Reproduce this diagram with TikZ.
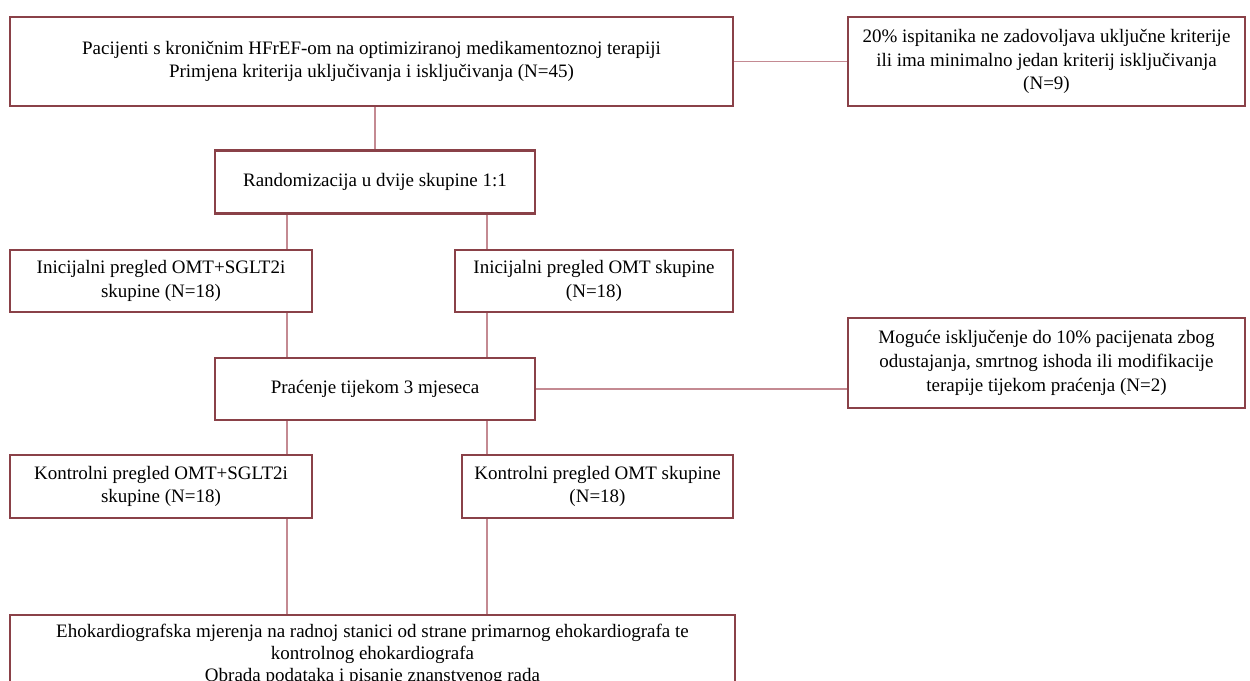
\documentclass[tikz,border=0pt]{standalone}
\usepackage{fontspec}
\setmainfont{Liberation Serif}
\definecolor{boxred}{HTML}{8A4148}
\definecolor{linered}{HTML}{C48A92}
\begin{document}
\begin{tikzpicture}[x=0.6pt, y=-0.6pt,
  box/.style={draw=boxred, line width=1.4pt, align=center, inner sep=0pt,
    font=\fontsize{11.4}{14.2}\selectfont},
  conn/.style={draw=linered, line width=0.7pt}]
  \useasboundingbox (0,0) rectangle (1250,681);

  \node[box, minimum width=433.8pt, minimum height=53.4pt] (pacijenti) at (371.5, 61.5)
    {Pacijenti s kroničnim HFrEF-om na optimiziranoj medikamentoznoj terapiji\\
     Primjena kriterija uključivanja i isključivanja (N=45)};
  \node[box, minimum width=238.2pt, minimum height=53.4pt] (iskljuceni) at (1046.5, 61.5)
    {20\% ispitanika ne zadovoljava uključne kriterije\\
     ili ima minimalno jedan kriterij isključivanja\\(N=9)};
  \node[box, minimum width=192pt, minimum height=37.8pt] (random) at (375, 182)
    {Randomizacija u dvije skupine 1:1};
  \node[box, minimum width=181.2pt, minimum height=37.2pt] (inicSGLT) at (161, 281)
    {Inicijalni pregled OMT+SGLT2i\\skupine (N=18)};
  \node[box, minimum width=166.8pt, minimum height=37.2pt] (inicOMT) at (594, 281)
    {Inicijalni pregled OMT skupine\\(N=18)};
  \node[box, minimum width=192pt, minimum height=37.2pt] (pracenje) at (375, 389)
    {Praćenje tijekom 3 mjeseca};
  \node[box, minimum width=238.2pt, minimum height=54pt] (odustali) at (1046.5, 363)
    {Moguće isključenje do 10\% pacijenata zbog\\
     odustajanja, smrtnog ishoda ili modifikacije\\
     terapije tijekom praćenja (N=2)};
  \node[box, minimum width=181.2pt, minimum height=37.8pt] (kontSGLT) at (161, 486.5)
    {Kontrolni pregled OMT+SGLT2i\\skupine (N=18)};
  \node[box, minimum width=162.6pt, minimum height=37.8pt] (kontOMT) at (597.5, 486.5)
    {Kontrolni pregled OMT skupine\\(N=18)};
  \node[box, minimum width=435pt, minimum height=48pt,
    font=\fontsize{11.4}{13.4}\selectfont] (obrada) at (372.5, 655)
    {Ehokardiografska mjerenja na radnoj stanici od strane primarnog ehokardiografa te\\
     kontrolnog ehokardiografa\\
     Obrada podataka i pisanje znanstvenog rada};

  \coordinate (lx) at (287, 0);
  \coordinate (rx) at (487, 0);

  \draw[conn] (pacijenti.east) -- (iskljuceni.west);
  \draw[conn] (random.north) -- (random.north |- pacijenti.south);
  \draw[conn] (random.south -| lx) -- (inicSGLT.north -| lx);
  \draw[conn] (random.south -| rx) -- (inicOMT.north -| rx);
  \draw[conn] (inicSGLT.south -| lx) -- (pracenje.north -| lx);
  \draw[conn] (inicOMT.south -| rx) -- (pracenje.north -| rx);
  \draw[conn] (pracenje.east) -- (odustali.west |- pracenje.east);
  \draw[conn] (pracenje.south -| lx) -- (kontSGLT.north -| lx);
  \draw[conn] (pracenje.south -| rx) -- (kontOMT.north -| rx);
  \draw[conn] (kontSGLT.south -| lx) -- (obrada.north -| lx);
  \draw[conn] (kontOMT.south -| rx) -- (obrada.north -| rx);
\end{tikzpicture}
\end{document}
